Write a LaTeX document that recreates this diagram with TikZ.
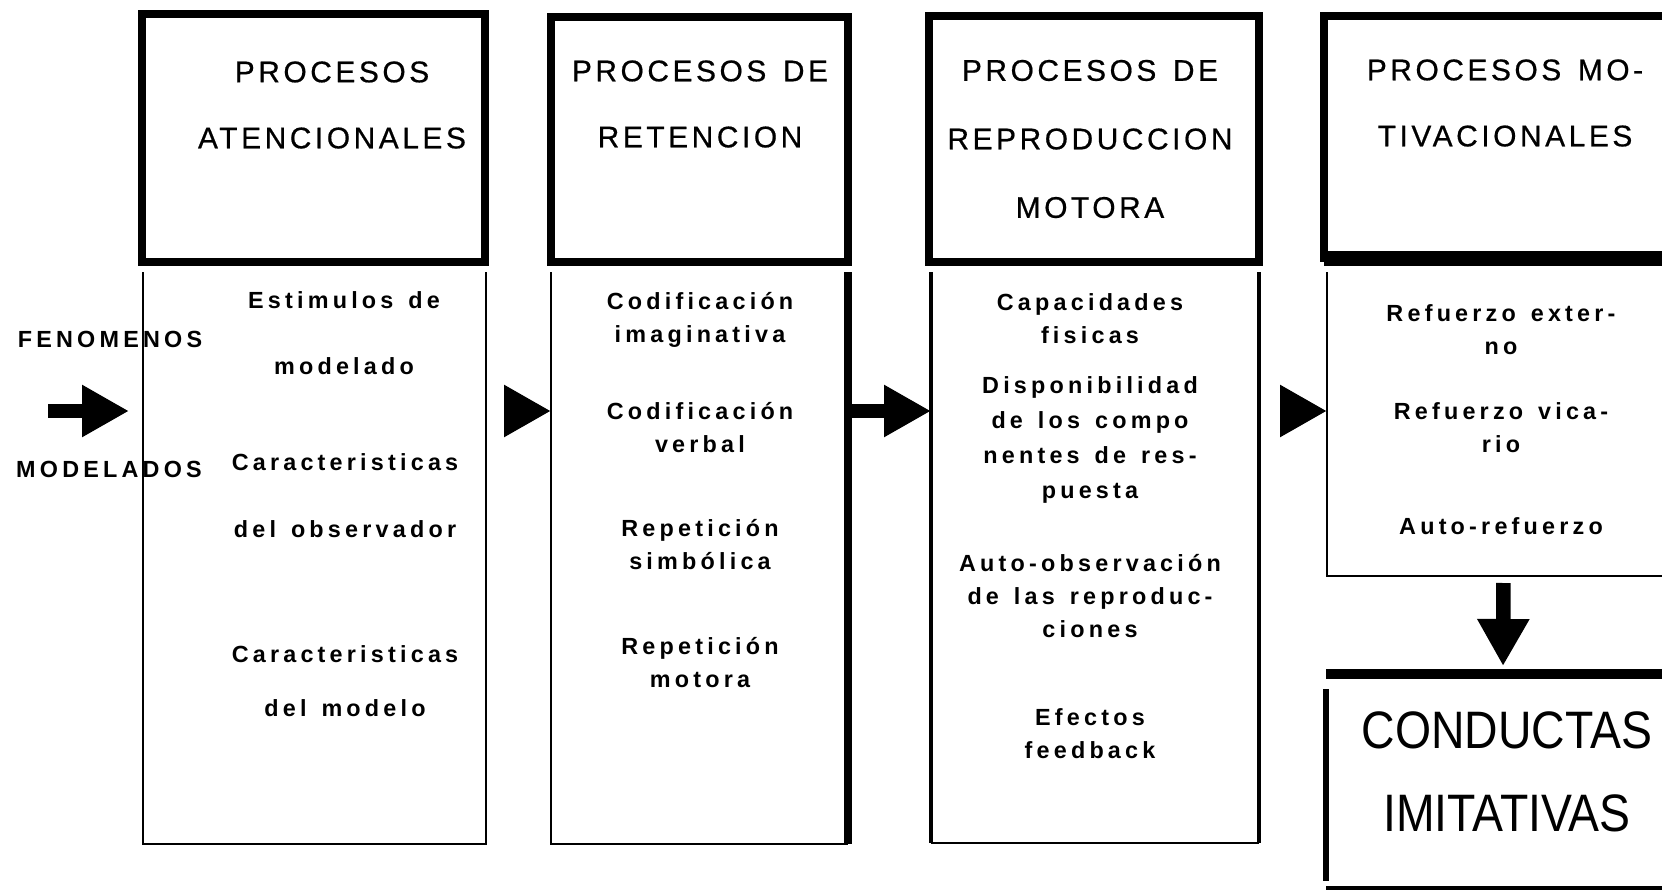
\documentclass[tikz,border=0pt]{standalone}
\usepackage{fontspec}
\setmainfont{Liberation Sans}
\newfontfamily\rotulo[LetterSpace=12, WordSpace=1.4, FakeBold=0.6]{Liberation Sans}
\newfontfamily\texto[LetterSpace=18, WordSpace=1.4]{Liberation Sans}
\usetikzlibrary{arrows.meta, fit}

\tikzset{
  caja/.style={inner sep=0pt, outer sep=0pt},
  titulo/.style={align=center, font=\rotulo\fontsize{17}{37.6}\selectfont},
  grande/.style={align=center, font=\fontsize{30}{47}\selectfont},
  item/.style={align=center, font=\texto\bfseries\fontsize{13.3}{18.8}\selectfont},
  grueso/.style={line width=0.17cm},
  medio/.style={line width=0.09cm},
  fino/.style={line width=0.055cm},
  flecha/.style={line width=0.29cm, -{Triangle[length=0.94cm, width=0.98cm]}},
  punta/.style={flecha, shorten <=0.44cm},
}

\begin{document}
\begin{tikzpicture}[x=0.02cm, y=-0.02cm]
\useasboundingbox (0,0) rectangle (1662,892);

% entrada
\node[item] (fen) at (110,339) {FENOMENOS};
\node[item] (mod) at (109,469) {MODELADOS};

% cajas
\node[caja, fit={(142,14) (485,262)}] (hatenc) {};
\node[caja, fit={(143,272) (486,844)}] (atenc) {};
\node[caja, fit={(551,17) (848,262)}] (hreten) {};
\node[caja, fit={(551,272) (848,844)}] (reten) {};
\node[caja, fit={(929,16) (1259,262)}] (hrepro) {};
\node[caja, fit={(931,272) (1259,843)}] (repro) {};
\node[caja, fit={(1324,16) (1684,258)}] (hmotiv) {};
\node[caja, fit={(1327,272) (1680,576)}] (motiv) {};
\node[caja, fit={(1326,674) (1680,888)}] (imit) {};

\draw[grueso] (hatenc.north west) rectangle (hatenc.south east);
\draw[grueso] (hreten.north west) rectangle (hreten.south east);
\draw[grueso] (hrepro.north west) rectangle (hrepro.south east);
\draw[grueso] (hmotiv.north west) rectangle (hmotiv.south east);
\draw[line width=0.3cm] (hmotiv.south west) -- (hmotiv.south east);

\draw[fino] (atenc.north west) -- (atenc.south west) -- (atenc.south east) -- (atenc.north east);
\draw[fino] (reten.north west) -- (reten.south west) -- (reten.south east);
\draw[grueso] (reten.north east) -- (reten.south east);
\draw[fino] (repro.south west) -- (repro.south east);
\draw[medio] (repro.north west) -- (repro.south west);
\draw[medio] (repro.north east) -- (repro.south east);
\draw[fino] (motiv.north west) -- (motiv.south west) -- (motiv.south east);

\draw[line width=0.2cm] (imit.north west) -- (imit.north east);
\draw[line width=0.12cm] ([yshift=-0.3cm]imit.north west) -- ([yshift=0.15cm]imit.south west);
\draw[medio] (imit.south west) -- (imit.south east);

% titulos
\node[titulo] (tatenc) at (332,105) {PROCESOS\\ATENCIONALES};
\node[titulo] (treten) at (700,104) {PROCESOS DE\\RETENCION};
\node[titulo, font=\rotulo\fontsize{17}{39}\selectfont] (trepro) at (1090,139) {PROCESOS DE\\REPRODUCCION\\MOTORA};
\node[titulo] (tmotiv) at (1505,103) {PROCESOS MO-\\TIVACIONALES};
\node[grande] (timit) at (1507,772) {\scalebox{0.88}[1]{CONDUCTAS}\\\scalebox{0.88}[1]{IMITATIVAS}};

% contenidos
\node[item] (estim) at (344,333) {Estimulos de\\[18.8pt]modelado};
\node[item] (cobs) at (345,496) {Caracteristicas\\[19.3pt]del observador};
\node[item] (cmod) at (345,681) {Caracteristicas\\[12pt]del modelo};

\node[item] (codi) at (700,320) {Codificación\\imaginativa};
\node[item] (codv) at (700,428) {Codificación\\verbal};
\node[item] (reps) at (700,545) {Repetición\\simbólica};
\node[item] (repm) at (700,663) {Repetición\\motora};

\node[item] (capac) at (1090,319) {Capacidades\\fisicas};
\node[item] (dispo) at (1090,440) {Disponibilidad\\[1pt]de los compo\\[1pt]nentes de res-\\[1pt]puesta};
\node[item] (autoo) at (1090,596) {Auto-observación\\de las reproduc-\\ciones};
\node[item] (efect) at (1090,734) {Efectos\\feedback};

\node[item] (rext) at (1501,330) {Refuerzo exter-\\no};
\node[item] (rvic) at (1501,428) {Refuerzo vica-\\rio};
\node[item] (raut) at (1501,526) {Auto-refuerzo};

% flechas
\coordinate (flujo) at (0,411);
\coordinate (ini) at (48,411);
\draw[flecha, shorten >=0.28cm] (ini) -- (atenc.west |- flujo);
\draw[punta] (atenc.east |- flujo) -- (reten.west |- flujo);
\draw[flecha] (reten.east |- flujo) -- (repro.west |- flujo);
\draw[punta] (repro.east |- flujo) -- (motiv.west |- flujo);
\draw[flecha, shorten <=0.14cm, shorten >=0.16cm] (motiv.south) -- (imit.north);

\end{tikzpicture}
\end{document}
